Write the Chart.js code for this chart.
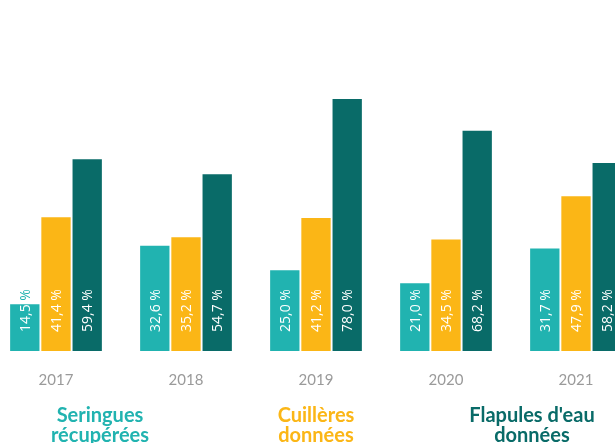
<!DOCTYPE html>
<html>
<head>
<meta charset="utf-8">
<script src="https://cdn.jsdelivr.net/npm/chart.js@4"></script>
<style>
  html, body { margin: 0; padding: 0; background: #fff; overflow: hidden; }
  #wrap { position: absolute; left: -9px; top: 0; width: 650px; height: 443px; }
  .title { position: absolute; top: 404px; width: 220px; text-align: center;
    font-family: Lato, "Noto Sans", sans-serif; font-weight: 700; font-size: 20px; line-height: 20px; }
</style>
</head>
<body>
<div id="wrap"><canvas id="barchart"></canvas></div>
<div class="title" id="t0"></div>
<div class="title" id="t1"></div>
<div class="title" id="t2"></div>
<script>
var years = ["2017", "2018", "2019", "2020", "2021"];
var seringues = [14.5, 32.6, 25.0, 21.0, 31.7];
var cuilleres = [41.4, 35.2, 41.2, 34.5, 47.9];
var flapules = [59.4, 54.7, 78.0, 68.2, 58.2];
var seriesNames = ["Seringues récupérées", "Cuillères données", "Flapules d'eau données"];
var seriesColors = ["#21b3b0", "#fbb616", "#096b68"];
var titleCenters = [100, 316, 532];

// bottom titles (act as the legend)
seriesNames.forEach(function (name, i) {
  var el = document.getElementById("t" + i);
  var words = name.split(" ");
  el.innerHTML = words.slice(0, -1).join(" ") + "<br>" + words[words.length - 1];
  el.style.color = seriesColors[i];
  el.style.left = (titleCenters[i] - 110) + "px";
});

// value labels written upward inside each bar
var barLabels = {
  id: "barLabels",
  afterDatasetsDraw(chart) {
    let ctx = chart.ctx;
    chart.data.datasets.forEach(function (ds, di) {
      chart.getDatasetMeta(di).data.forEach(function (bar, i) {
        let txt = ds.data[i].toFixed(1).replace(".", ",") + " %";
        let half = bar.width / 2;
        [["#ffffff", bar.y, bar.base - bar.y], [ds.backgroundColor, 0, bar.y]].forEach(function (p) {
          ctx.save();
          ctx.beginPath();
          ctx.rect(bar.x - half - 5, p[1], bar.width + 10, p[2]);
          ctx.clip();
          ctx.translate(bar.x, bar.base - 19);
          ctx.rotate(-Math.PI / 2);
          ctx.fillStyle = p[0];
          ctx.font = "14px 'Open Sans'";
          ctx.textAlign = "left";
          ctx.textBaseline = "middle";
          ctx.fillText(txt, 0, 1);
          ctx.restore();
        });
      });
    });
  }
};

let ctx = document.getElementById("barchart").getContext("2d");

let chart = new Chart(ctx, {
  type: "bar",
  data: {
    labels: years,
    datasets: [
      { label: seriesNames[0], backgroundColor: seriesColors[0], data: seringues },
      { label: seriesNames[1], backgroundColor: seriesColors[1], data: cuilleres },
      { label: seriesNames[2], backgroundColor: seriesColors[2], data: flapules },
    ],
  },
  options: {
    responsive: true,
    maintainAspectRatio: false,
    animation: false,
    categoryPercentage: 0.72,
    barPercentage: 0.94,
    layout: { padding: { top: 28, bottom: 34, left: 0, right: 0 } },
    plugins: { legend: { display: false }, tooltip: { enabled: false } },
    scales: {
      x: {
        grid: { display: false, drawTicks: false },
        border: { display: false },
        ticks: { color: "#9a9a9a", padding: 20, font: { family: "Lato", size: 15 } },
      },
      y: { display: false, min: 0, max: 100 },
    },
  },
  plugins: [barLabels],
});
</script>
</body>
</html>
